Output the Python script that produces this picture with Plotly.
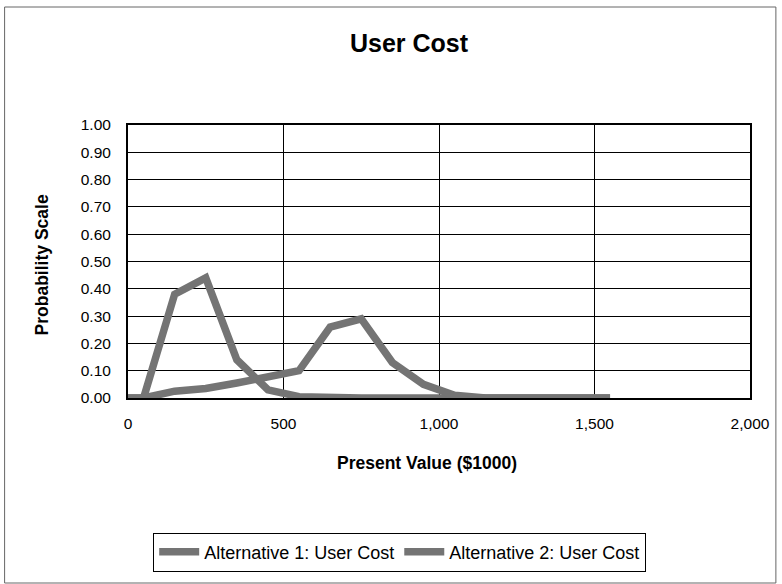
import plotly.graph_objects as go

present_value = [0, 50, 150, 250, 350, 450, 550, 650, 750, 850, 950, 1050, 1150, 1250, 1350, 1450, 1550]
alt1_prob = [0, 0, 0.38, 0.44, 0.14, 0.03, 0.005, 0, 0, 0, 0, 0, 0, 0, 0, 0, 0]
alt2_prob = [0, 0, 0.025, 0.035, 0.055, 0.08, 0.10, 0.26, 0.29, 0.13, 0.05, 0.01, 0, 0, 0, 0, 0]
series_names = ["Alternative 1: User Cost", "Alternative 2: User Cost"]
x_ticks = [0, 500, 1000, 1500, 2000]
y_ticks = [0, 0.1, 0.2, 0.3, 0.4, 0.5, 0.6, 0.7, 0.8, 0.9, 1.0]

FONT = "Liberation Sans, Arial, sans-serif"
LINE_COLOR = "#747474"

fig = go.Figure()
for name, ys in zip(series_names, [alt1_prob, alt2_prob]):
    fig.add_trace(go.Scatter(x=present_value, y=ys, mode="lines", name=name,
                             line=dict(color=LINE_COLOR, width=7.5)))

W, H = 782, 584
L, R, T, B = 128, 753, 125, 398
pw, ph = R - L, B - T

def px(x):
    return (x - L) / pw

def py(y):
    return (B - y) / ph

fig.update_layout(
    width=W, height=H,
    margin=dict(l=L, r=W - R, t=T, b=H - B),
    paper_bgcolor="white", plot_bgcolor="white",
    font=dict(family=FONT, size=15.5, color="black"),
    title=dict(text="<b>User Cost</b>", x=409 / W, xanchor="center",
               y=1 - 43 / H, yanchor="middle", font=dict(size=25, family=FONT)),
    showlegend=True,
    legend=dict(orientation="h", x=px(401), xanchor="center",
                y=py(552), yanchor="middle", bordercolor="black", borderwidth=1,
                bgcolor="white", font=dict(size=18, family=FONT),
                itemwidth=40, tracegroupgap=0),
    xaxis=dict(range=[0, 2000], tickvals=x_ticks, tickformat=",d",
               showgrid=True, gridcolor="black", gridwidth=1,
               showline=True, linecolor="black", linewidth=2, mirror=True,
               zeroline=False, ticks="", ticklabelstandoff=10,
               tickfont=dict(size=15.5, family=FONT)),
    yaxis=dict(range=[0, 1.0], tickvals=y_ticks, tickformat=".2f",
               showgrid=True, gridcolor="black", gridwidth=1,
               showline=True, linecolor="black", linewidth=2, mirror=True,
               zeroline=False, ticks="", ticklabelstandoff=12,
               tickfont=dict(size=15.5, family=FONT)),
    annotations=[
        dict(text="<b>Present Value ($1000)</b>", xref="paper", yref="paper",
             x=px(428), y=py(463), xanchor="center", yanchor="middle",
             showarrow=False, font=dict(size=17.5, family=FONT)),
        dict(text="<b>Probability Scale</b>", xref="paper", yref="paper",
             x=px(42), y=py(265), xanchor="center", yanchor="middle",
             textangle=-90, showarrow=False, font=dict(size=17.5, family=FONT)),
    ],
    shapes=[
        dict(type="rect", xref="paper", yref="paper",
             x0=px(4), x1=px(779), y0=py(583), y1=py(7),
             line=dict(color="#666666", width=1), layer="below"),
    ],
)

fig.write_html("out.html", config={"displayModeBar": False},
               post_script="document.body.style.margin='0px';")
